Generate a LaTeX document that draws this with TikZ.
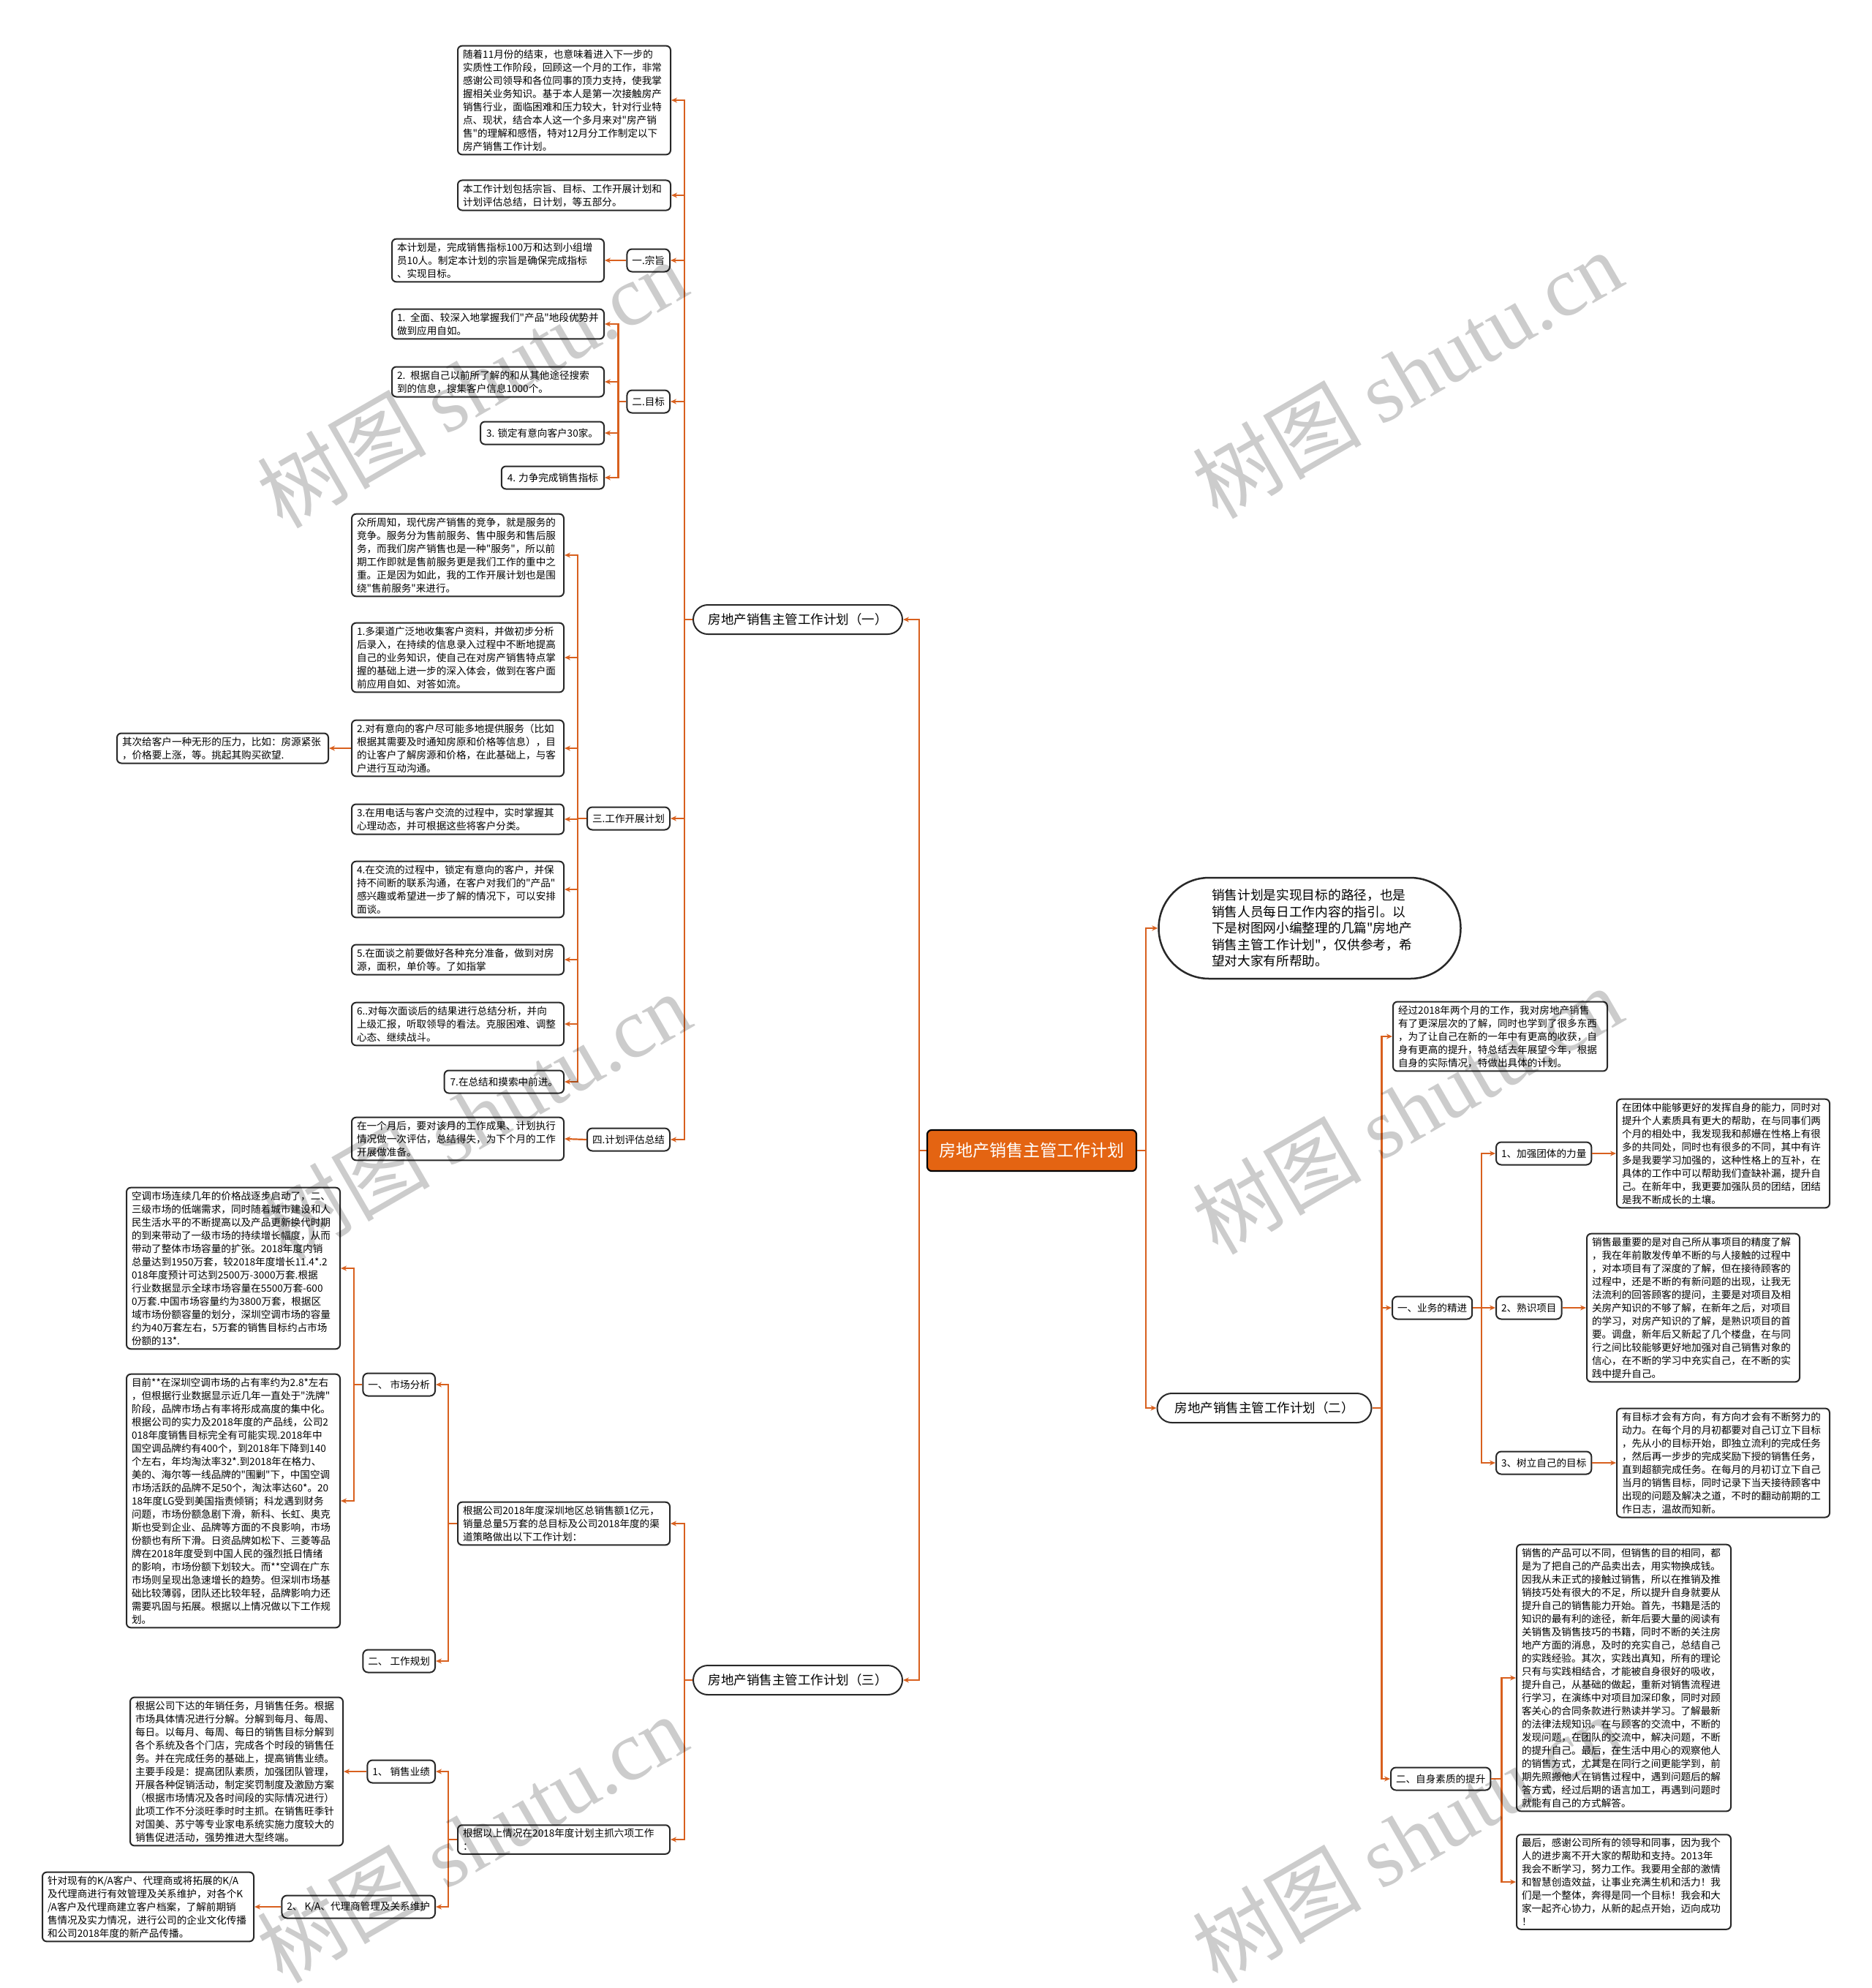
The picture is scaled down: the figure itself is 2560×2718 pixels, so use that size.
\documentclass[tikz,border=0pt]{standalone}
\usepackage{fontspec}
\setmainfont{Noto Sans CJK SC}[Ligatures=TeXOff]
\newfontfamily\wmserif{Liberation Serif}
\usetikzlibrary{arrows.meta}
\definecolor{lineor}{RGB}{216,96,30}
\definecolor{mainor}{RGB}{228,100,18}
\definecolor{bord}{RGB}{40,40,40}
\tikzset{
  tbox/.style={draw=bord, line width=2pt, rounded corners=6pt, fill=white, align=left,
    inner xsep=7pt, inner ysep=5pt, font=\fontsize{13.6}{18}\selectfont},
  sbox/.style={draw=bord, line width=2pt, rounded corners=6pt, fill=white,
    inner xsep=8pt, inner ysep=0pt, minimum height=31pt, font=\fontsize{13.6}{16}\selectfont},
  lbox/.style={draw=bord, line width=2pt, rounded corners=7pt, fill=white,
    inner xsep=7pt, inner ysep=0pt, minimum height=31pt, font=\fontsize{13.6}{16}\selectfont},
  pill/.style={draw=bord, line width=2pt, rounded corners=20pt, fill=white,
    minimum width=286pt, minimum height=40pt, inner xsep=10pt, font=\fontsize{17.5}{20}\selectfont},
  cbox/.style={draw=black, line width=2.2pt, rounded corners=6pt, fill=mainor, text=white,
    minimum width=286pt, minimum height=56pt, font=\fontsize{23}{26}\selectfont},
  conn/.style={draw=lineor, line width=2.2pt, -{Stealth[length=8pt,width=7pt]}},
  wm/.style={rotate=30, text=black, opacity=0.2, font=\fontsize{116}{118}\selectfont},
}
\begin{document}
\begin{tikzpicture}[x=1pt,y=-1pt]
\useasboundingbox (0,0) rectangle (2560,2718);
\fill[white] (0,0) rectangle (2560,2718);

% ---------- central ----------
\node[cbox] (C) at (1411,1573) {房地产销售主管工作计划};

% ---------- right side ----------
\node[draw=bord, line width=2.5pt, rounded corners=69pt, fill=white, minimum width=413pt,
  minimum height=138pt, text width=268pt, align=left, font=\fontsize{17.7}{22.5}\selectfont]
  (IP) at (1791,1269) {销售计划是实现目标的路径，也是\\销售人员每日工作内容的指引。以\\下是树图网小编整理的几篇"房地产\\销售主管工作计划"，仅供参考，希\\望对大家有所帮助。};
\node[pill, minimum width=293pt] (P2) at (1729,1925) {房地产销售主管工作计划（二）};

\node[tbox, text width=279pt, anchor=west] (R1) at (1904,1417) {经过2018年两个月的工作，我对房地产销售\\有了更深层次的了解，同时也学到了很多东西\\，为了让自己在新的一年中有更高的收获，自\\身有更高的提升，特总结去年展望今年，根据\\自身的实际情况，特做出具体的计划。};
\node[lbox, anchor=west] (LYW) at (1903,1788) {一、业务的精进};
\node[lbox, anchor=west] (LJQ) at (2045,1577) {1、加强团体的力量};
\node[lbox, anchor=west] (LSS) at (2045,1788) {2、熟识项目};
\node[lbox, anchor=west] (LSL) at (2045,2000) {3、树立自己的目标};
\node[tbox, text width=277pt, anchor=west] (R2) at (2210,1577) {在团体中能够更好的发挥自身的能力，同时对\\提升个人素质具有更大的帮助，在与同事们两\\个月的相处中，我发现我和郝姗在性格上有很\\多的共同处，同时也有很多的不同，其中有许\\多是我要学习加强的，这种性格上的互补，在\\具体的工作中可以帮助我们查缺补漏，提升自\\己。在新年中，我更要加强队员的团结，团结\\是我不断成长的土壤。};
\node[tbox, text width=277pt, anchor=west] (R3) at (2169,1788) {销售最重要的是对自己所从事项目的精度了解\\，我在年前散发传单不断的与人接触的过程中\\，对本项目有了深度的了解，但在接待顾客的\\过程中，还是不断的有新问题的出现，让我无\\法流利的回答顾客的提问，主要是对项目及相\\关房产知识的不够了解，在新年之后，对项目\\的学习，对房产知识的了解，是熟识项目的首\\要。调盘，新年后又新起了几个楼盘，在与同\\行之间比较能够更好地加强对自己销售对象的\\信心，在不断的学习中充实自己，在不断的实\\践中提升自己。};
\node[tbox, text width=277pt, anchor=west] (R4) at (2210,2000) {有目标才会有方向，有方向才会有不断努力的\\动力。在每个月的月初都要对自己订立下目标\\，先从小的目标开始，即独立流利的完成任务\\，然后再一步步的完成奖励下授的销售任务，\\直到超额完成任务。在每月的月初订立下自己\\当月的销售目标，同时记录下当天接待顾客中\\出现的问题及解决之道，不时的翻动前期的工\\作日志，温故而知新。};
\node[lbox, anchor=west] (LZS) at (1901,2432) {二、自身素质的提升};
\node[tbox, text width=279pt, anchor=west] (R5) at (2073,2294) {销售的产品可以不同，但销售的目的相同，都\\是为了把自己的产品卖出去，用实物换成钱。\\因我从未正式的接触过销售，所以在推销及推\\销技巧处有很大的不足，所以提升自身就要从\\提升自己的销售能力开始。首先，书籍是活的\\知识的最有利的途径，新年后要大量的阅读有\\关销售及销售技巧的书籍，同时不断的关注房\\地产方面的消息，及时的充实自己，总结自己\\的实践经验。其次，实践出真知，所有的理论\\只有与实践相结合，才能被自身很好的吸收，\\提升自己，从基础的做起，重新对销售流程进\\行学习，在演练中对项目加深印象，同时对顾\\客关心的合同条款进行熟读并学习。了解最新\\的法律法规知识。在与顾客的交流中，不断的\\发现问题，在团队的交流中，解决问题，不断\\的提升自己。最后，在生活中用心的观察他人\\的销售方式，尤其是在同行之间更能学到，前\\期先照搬他人在销售过程中，遇到问题后的解\\答方式，经过后期的语言加工，再遇到问题时\\就能有自己的方式解答。};
\node[tbox, text width=279pt, anchor=west] (R6) at (2073,2573) {最后，感谢公司所有的领导和同事，因为我个\\人的进步离不开大家的帮助和支持。2013年\\我会不断学习，努力工作。我要用全部的激情\\和智慧创造效益，让事业充满生机和活力！我\\们是一个整体，奔得是同一个目标！我会和大\\家一起齐心协力，从新的起点开始，迈向成功\\！};

% ---------- left upper (plan 1) ----------
\node[pill] (P1) at (1091,847) {房地产销售主管工作计划（一）};
\node[tbox, text width=277pt, anchor=east] (T1) at (918,137) {随着11月份的结束，也意味着进入下一步的\\实质性工作阶段，回顾这一个月的工作，非常\\感谢公司领导和各位同事的顶力支持，使我掌\\握相关业务知识。基于本人是第一次接触房产\\销售行业，面临困难和压力较大，针对行业特\\点、现状，结合本人这一个多月来对"房产销\\售"的理解和感悟，特对12月分工作制定以下\\房产销售工作计划。};
\node[tbox, text width=277pt, anchor=east] (T2) at (918,267) {本工作计划包括宗旨、目标、工作开展计划和\\计划评估总结，日计划，等五部分。};
\node[lbox, anchor=east] (LYI) at (917,356) {一.宗旨};
\node[tbox, text width=276pt, anchor=east] (T3) at (827,356) {本计划是，完成销售指标100万和达到小组增\\员10人。制定本计划的宗旨是确保完成指标\\、实现目标。};
\node[lbox, anchor=east] (LER) at (917,549) {二.目标};
\node[tbox, text width=276pt, anchor=east] (T4) at (827,443) {1. 全面、较深入地掌握我们"产品"地段优势并\\做到应用自如。};
\node[tbox, text width=276pt, anchor=east] (T5) at (827,522) {2. 根据自己以前所了解的和从其他途径搜索\\到的信息，搜集客户信息1000个。};
\node[sbox, anchor=east] (T6) at (827,592) {3. 锁定有意向客户30家。};
\node[sbox, anchor=east] (T7) at (827,653) {4. 力争完成销售指标};
\node[lbox, anchor=east] (LSAN) at (917,1119) {三.工作开展计划};
\node[tbox, text width=276pt, anchor=east] (T8) at (772,759) {众所周知，现代房产销售的竞争，就是服务的\\竞争。服务分为售前服务、售中服务和售后服\\务，而我们房产销售也是一种"服务"，所以前\\期工作即就是售前服务更是我们工作的重中之\\重。正是因为如此，我的工作开展计划也是围\\绕"售前服务"来进行。};
\node[tbox, text width=276pt, anchor=east] (T9) at (772,899) {1.多渠道广泛地收集客户资料，并做初步分析\\后录入，在持续的信息录入过程中不断地提高\\自己的业务知识，使自己在对房产销售特点掌\\握的基础上进一步的深入体会，做到在客户面\\前应用自如、对答如流。};
\node[tbox, text width=276pt, anchor=east] (T10) at (772,1023) {2.对有意向的客户尽可能多地提供服务（比如\\根据其需要及时通知房原和价格等信息），目\\的让客户了解房源和价格，在此基础上，与客\\户进行互动沟通。};
\node[tbox, text width=275pt, anchor=east] (T11) at (450,1023) {其次给客户一种无形的压力，比如：房源紧张\\，价格要上涨，等。挑起其购买欲望.};
\node[tbox, text width=276pt, anchor=east] (T12) at (772,1120) {3.在用电话与客户交流的过程中，实时掌握其\\心理动态，并可根据这些将客户分类。};
\node[tbox, text width=276pt, anchor=east] (T13) at (772,1216) {4.在交流的过程中，锁定有意向的客户，并保\\持不间断的联系沟通，在客户对我们的"产品"\\感兴趣或希望进一步了解的情况下，可以安排\\面谈。};
\node[tbox, text width=276pt, anchor=east] (T14) at (772,1312) {5.在面谈之前要做好各种充分准备，做到对房\\源，面积，单价等。了如指掌};
\node[tbox, text width=276pt, anchor=east] (T15) at (772,1400) {6..对每次面谈后的结果进行总结分析，并向\\上级汇报，听取领导的看法。克服困难、调整\\心态、继续战斗。};
\node[sbox, anchor=east] (T16) at (772,1479) {7.在总结和摸索中前进。};
\node[lbox, anchor=east] (LSI) at (917,1558) {四.计划评估总结};
\node[tbox, text width=276pt, anchor=east] (T17) at (772,1557) {在一个月后，要对该月的工作成果、计划执行\\情况做一次评估，总结得失，为下个月的工作\\开展做准备。};

% ---------- left lower (plan 3) ----------
\node[pill] (P3) at (1091,2297) {房地产销售主管工作计划（三）};
\node[tbox, text width=276pt, anchor=east] (B1) at (917,2083) {根据公司2018年度深圳地区总销售额1亿元，\\销量总量5万套的总目标及公司2018年度的渠\\道策略做出以下工作计划：};
\node[tbox, text width=276pt, anchor=east] (B2) at (917,2515) {根据以上情况在2018年度计划主抓六项工作\\：};
\node[lbox, anchor=east] (LSC) at (596,1893) {一、 市场分析};
\node[tbox, text width=278pt, anchor=east] (TA) at (466,1734) {空调市场连续几年的价格战逐步启动了，二、\\三级市场的低端需求，同时随着城市建设和人\\民生活水平的不断提高以及产品更新换代时期\\的到来带动了一级市场的持续增长幅度，从而\\带动了整体市场容量的扩张。2018年度内销\\总量达到1950万套，较2018年度增长11.4*.2\\018年度预计可达到2500万-3000万套.根据\\行业数据显示全球市场容量在5500万套-600\\0万套.中国市场容量约为3800万套，根据区\\域市场份额容量的划分，深圳空调市场的容量\\约为40万套左右，5万套的销售目标约占市场\\份额的13*.};
\node[tbox, text width=278pt, anchor=east] (TB) at (466,2052) {目前**在深圳空调市场的占有率约为2.8*左右\\，但根据行业数据显示近几年一直处于"洗牌"\\阶段，品牌市场占有率将形成高度的集中化。\\根据公司的实力及2018年度的产品线，公司2\\018年度销售目标完全有可能实现.2018年中\\国空调品牌约有400个，到2018年下降到140\\个左右，年均淘汰率32*.到2018年在格力、\\美的、海尔等一线品牌的"围剿"下，中国空调\\市场活跃的品牌不足50个，淘汰率达60*。20\\18年度LG受到美国指责倾销；科龙遇到财务\\问题，市场份额急剧下滑，新科、长虹、奥克\\斯也受到企业、品牌等方面的不良影响，市场\\份额也有所下滑。日资品牌如松下、三菱等品\\牌在2018年度受到中国人民的强烈抵日情绪\\的影响，市场份额下划较大。而**空调在广东\\市场则呈现出急速增长的趋势。但深圳市场基\\础比较薄弱，团队还比较年轻，品牌影响力还\\需要巩固与拓展。根据以上情况做以下工作规\\划。};
\node[lbox, anchor=east] (LGZ) at (596,2271) {二、 工作规划};
\node[lbox, anchor=east] (LXS) at (596,2422) {1、 销售业绩};
\node[tbox, text width=277pt, anchor=east] (TC) at (470,2422) {根据公司下达的年销任务，月销售任务。根据\\市场具体情况进行分解。分解到每月、每周、\\每日。以每月、每周、每日的销售目标分解到\\各个系统及各个门店，完成各个时段的销售任\\务。并在完成任务的基础上，提高销售业绩。\\主要手段是：提高团队素质，加强团队管理，\\开展各种促销活动，制定奖罚制度及激励方案\\（根据市场情况及各时间段的实际情况进行）\\此项工作不分淡旺季时时主抓。在销售旺季针\\对国美、苏宁等专业家电系统实施力度较大的\\销售促进活动，强势推进大型终端。};
\node[lbox, anchor=east] (LKA) at (596,2607) {2、 K/A、代理商管理及关系维护};
\node[tbox, text width=275pt, anchor=east] (TD) at (348,2607) {针对现有的K/A客户、代理商或将拓展的K/A\\及代理商进行有效管理及关系维护，对各个K\\/A客户及代理商建立客户档案，了解前期销\\售情况及实力情况，进行公司的企业文化传播\\和公司2018年度的新产品传播。};

% ---------- connectors ----------
\foreach \t in {P1,P3} \draw[conn] (C.west) -- ++(-10,0) |- (\t.east);
\foreach \t in {IP,P2} \draw[conn] (C.east) -- ++(12,0) |- (\t.west);
\foreach \t in {R1,LYW,LZS} \draw[conn] (P2.east) -- ++(13,0) |- (\t.west);
\foreach \t in {LJQ,LSS,LSL} \draw[conn] (LYW.east) -- ++(12,0) |- (\t.west);
\draw[conn] (LJQ.east) -- (R2.west);
\draw[conn] (LSS.east) -- (R3.west);
\draw[conn] (LSL.east) -- (R4.west);
\foreach \t in {R5,R6} \draw[conn] (LZS.east) -- ++(14,0) |- (\t.west);

\foreach \t in {T1,T2,LYI,LER,LSAN,LSI} \draw[conn] (P1.west) -- ++(-11,0) |- (\t.east);
\draw[conn] (LYI.west) -- (T3.east);
\foreach \t in {T4,T5,T6,T7} \draw[conn] (LER.west) -- ++(-11,0) |- (\t.east);
\foreach \t in {T8,T9,T10,T12,T13,T14,T15,T16} \draw[conn] (LSAN.west) -- ++(-12,0) |- (\t.east);
\draw[conn] (T10.west) -- (T11.east);
\draw[conn] (LSI.west) -- (T17.east);

\foreach \t in {B1,B2} \draw[conn] (P3.west) -- ++(-11,0) |- (\t.east);
\foreach \t in {LSC,LGZ} \draw[conn] (B1.west) -- ++(-12,0) |- (\t.east);
\foreach \t in {TA,TB} \draw[conn] (LSC.west) -- ++(-11,0) |- (\t.east);
\foreach \t in {LXS,LKA} \draw[conn] (B2.west) -- ++(-12,0) |- (\t.east);
\draw[conn] (LXS.west) -- (TC.east);
\draw[conn] (LKA.west) -- (TD.east);

% ---------- watermarks ----------
\foreach \p/\q in {645/524, 1924/511, 650/1525, 1924/1517, 645/2513, 1924/2513}
  \node[wm] (wm\p\q) at (\p,\q) {树图 {\wmserif shutu.cn}};
\end{tikzpicture}
\end{document}
